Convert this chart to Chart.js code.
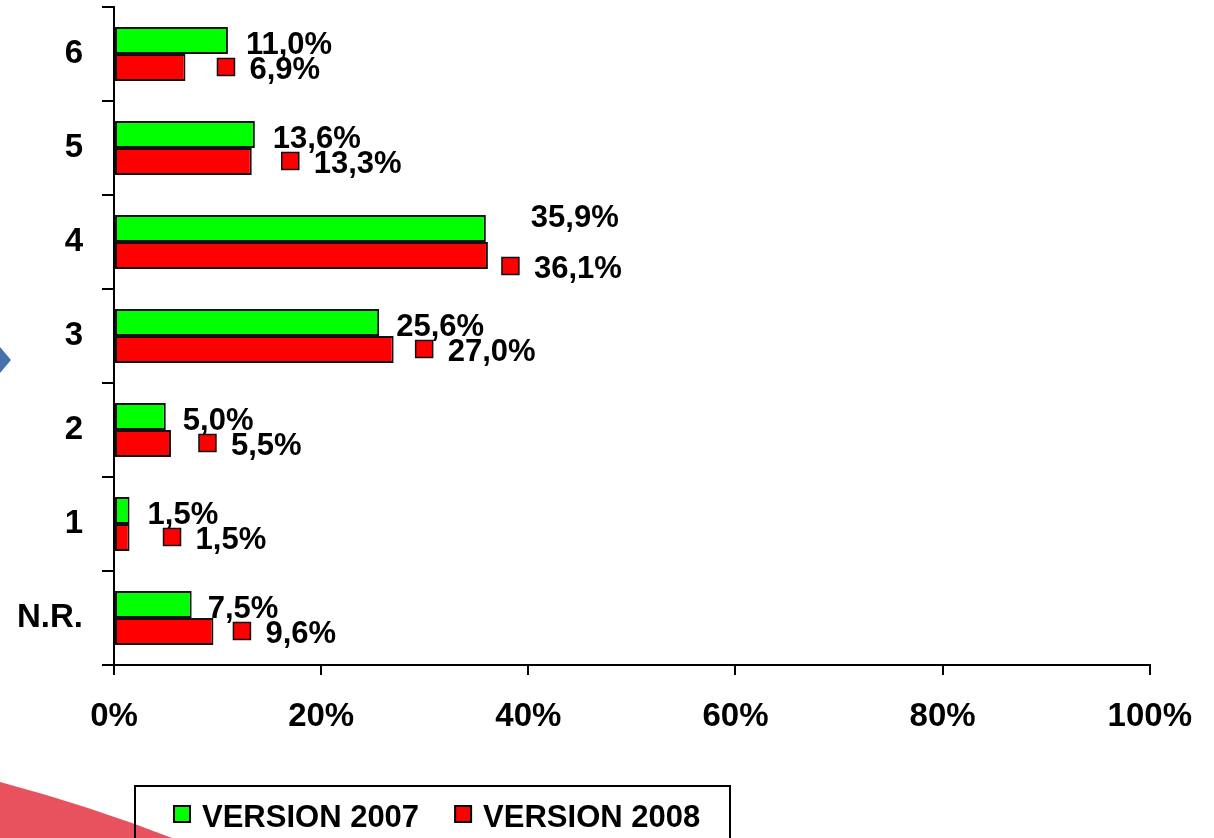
<!DOCTYPE html>
<html><head><meta charset="utf-8">
<script src="https://cdn.jsdelivr.net/npm/chart.js@4"></script>
<style>html,body{margin:0;padding:0;background:#fff;overflow:hidden}canvas{display:block}</style>
</head><body>
<canvas id="c" width="1214" height="838"></canvas>
<script>
const categories = ['6', '5', '4', '3', '2', '1', 'N.R.'];
const version2007 = [11.0, 13.6, 35.9, 25.6, 5.0, 1.5, 7.5];
const version2008 = [6.9, 13.3, 36.1, 27.0, 5.5, 1.5, 9.6];
const seriesNames = ['VERSION 2007', 'VERSION 2008'];
const xTickValues = [0, 20, 40, 60, 80, 100];

const FONT = "'Liberation Sans', Arial, sans-serif";
const fmt = v => v.toFixed(1).replace('.', ',') + '%';

const background = {
  id: 'background',
  beforeDraw(chart) {
    const ctx = chart.ctx;
    ctx.save();
    ctx.fillStyle = '#ffffff';
    ctx.fillRect(0, 0, chart.width, chart.height);
    ctx.fillStyle = '#e8525f';
    ctx.beginPath();
    ctx.moveTo(0, 782);
    ctx.quadraticCurveTo(90, 806, 172, 838);
    ctx.lineTo(0, 838);
    ctx.closePath();
    ctx.fill();
    ctx.fillStyle = '#4572ad';
    ctx.beginPath();
    ctx.moveTo(0, 347); ctx.lineTo(11, 360); ctx.lineTo(0, 373);
    ctx.closePath();
    ctx.fill();
    ctx.restore();
  }
};

const valueLabels = {
  id: 'valueLabels',
  afterDatasetsDraw(chart, args, o) {
    const ctx = chart.ctx;
    ctx.save();
    ctx.font = 'bold 31px ' + FONT;
    ctx.textAlign = 'left';
    ctx.textBaseline = 'alphabetic';
    chart.data.datasets.forEach((ds, di) => {
      const meta = chart.getDatasetMeta(di);
      meta.data.forEach((bar, i) => {
        const tx = bar.x + o.gap[di] + o.dx[di][i];
        const ty = bar.y + o.base[di] + o.dy[di][i];
        if (o.key[di]) {
          ctx.fillStyle = ds.backgroundColor;
          ctx.fillRect(tx - 32, ty - 21, 17, 17);
          ctx.strokeStyle = '#111';
          ctx.lineWidth = 1.5;
          ctx.strokeRect(tx - 32, ty - 21, 17, 17);
        }
        ctx.fillStyle = '#000';
        ctx.fillText(fmt(ds.data[i]), tx, ty);
      });
    });
    ctx.restore();
  }
};

const boxedLegend = {
  id: 'boxedLegend',
  afterDraw(chart, args, o) {
    const ctx = chart.ctx;
    ctx.save();
    ctx.strokeStyle = '#000';
    ctx.lineWidth = 2;
    ctx.strokeRect(o.left, o.top, o.width, o.height);
    ctx.font = 'bold 31px ' + FONT;
    ctx.textAlign = 'left';
    ctx.textBaseline = 'alphabetic';
    let x = o.left + 39;
    chart.data.datasets.forEach(ds => {
      ctx.fillStyle = ds.backgroundColor;
      ctx.fillRect(x, o.top + 20, 16, 16);
      ctx.lineWidth = 2;
      ctx.strokeStyle = '#000';
      ctx.strokeRect(x, o.top + 20, 16, 16);
      ctx.fillStyle = '#000';
      ctx.fillText(ds.label, x + 28, o.top + 41);
      x += 28 + ctx.measureText(ds.label).width + 36;
    });
    ctx.restore();
  }
};

new Chart(document.getElementById('c'), {
  type: 'bar',
  data: {
    labels: categories,
    datasets: [
      { label: seriesNames[0], data: version2007, backgroundColor: '#00ff00', borderColor: '#111', borderWidth: 2, borderSkipped: false, categoryPercentage: 0.574, barPercentage: 1 },
      { label: seriesNames[1], data: version2008, backgroundColor: '#ff0000', borderColor: '#111', borderWidth: 2, borderSkipped: false, categoryPercentage: 0.574, barPercentage: 1 }
    ]
  },
  options: {
    indexAxis: 'y',
    responsive: false,
    animation: false,
    devicePixelRatio: 1,
    layout: { padding: { top: 7, right: 64, bottom: 0, left: 0 } },
    plugins: {
      legend: { display: false },
      tooltip: { enabled: false },
      valueLabels: {
        gap: [17, 58],
        base: [13.5, 12],
        key: [false, true],
        dx: [[1, 1, 28, 0, 0, 1, -1], [6, 4, -12, -4, 2, 8, -6]],
        dy: [[0, 0, -15, 0, 0, 0, 0], [0, 0, 11, 0, 0, 0, 0]]
      },
      boxedLegend: { left: 135, top: 786, width: 595, height: 80 }
    },
    scales: {
      x: {
        min: 0, max: 100,
        afterBuildTicks: s => { s.ticks = xTickValues.map(v => ({ value: v })); },
        ticks: { callback: v => v + '%', font: { family: FONT, size: 33, weight: 'bold' }, color: '#000', padding: 22, maxRotation: 0 },
        grid: { drawOnChartArea: false, drawTicks: true, tickLength: 10, color: '#000', lineWidth: 2 },
        border: { color: '#000', width: 2 },
        afterFit(s) { s.height = 173; s.paddingLeft = 0; }
      },
      y: {
        ticks: { font: { family: FONT, size: 33, weight: 'bold' }, color: '#000', padding: 19 },
        grid: { drawOnChartArea: false, drawTicks: true, tickLength: 12, color: '#000', lineWidth: 2, offset: true },
        border: { color: '#000', width: 2 },
        afterFit(s) { s.width = 114; s.paddingTop = 0; s.paddingBottom = 0; }
      }
    }
  },
  plugins: [background, valueLabels, boxedLegend]
});
</script>
</body></html>
